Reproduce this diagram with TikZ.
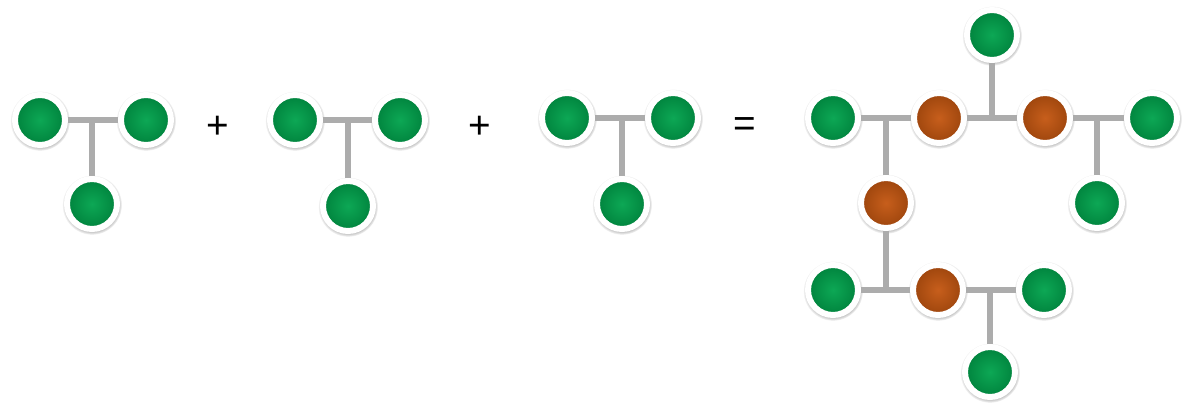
\documentclass[tikz,border=0pt]{standalone}
\usepackage{fontspec}
\setsansfont{Liberation Sans}
\usepackage{tikz}
\usetikzlibrary{shadows}

\definecolor{monogreen}{RGB}{0,163,76}
\definecolor{linkorange}{RGB}{196,86,16}
\definecolor{bondgrey}{RGB}{172,172,172}

\tikzset{atom/.style={circle,minimum size=1cm,inner sep=0pt,draw=white,line width=0.12cm,
           circular drop shadow={shadow xshift=0pt,shadow yshift=-0.4pt,shadow scale=1.2,opacity=0.6}},
         mono/.style={atom,inner color=monogreen!95!white,outer color=monogreen!80!black},
         link/.style={atom,inner color=linkorange!95!white,outer color=linkorange!80!black},
         bond/.style={draw=bondgrey,line width=0.12cm},
         sign/.style={font=\fontsize{22}{24}\selectfont\sffamily}}

\begin{document}
\begin{tikzpicture}[x=0.02cm,y=-0.02cm]
\useasboundingbox (0,0) rectangle (1190,406);
% three monomers
\node[mono] (a1) at (40,120) {};
\node[mono] (b1) at (146,120) {};
\node[mono] (c1) at (92,204) {};
\coordinate (j1) at (92,120);
\draw[bond] (a1) -- (j1) -- (b1) (j1) -- (c1);
\node[sign] (p1) at (218,127) {+};
\node[mono] (a2) at (295,120) {};
\node[mono] (b2) at (400,120) {};
\node[mono] (c2) at (348,206) {};
\coordinate (j2) at (348,120);
\draw[bond] (a2) -- (j2) -- (b2) (j2) -- (c2);
\node[sign] (p2) at (480,127) {+};
\node[mono] (a3) at (567,118) {};
\node[mono] (b3) at (673,118) {};
\node[mono] (c3) at (622,204) {};
\coordinate (j3) at (622,118);
\draw[bond] (a3) -- (j3) -- (b3) (j3) -- (c3);
\node[sign] (eq) at (745,127) {=};
% branched polymer
\node[mono] (g1) at (992,35) {};
\node[mono] (g2) at (833,118) {};
\node[link] (o1) at (939,118) {};
\node[link] (o2) at (1045,118) {};
\node[mono] (g3) at (1152,118) {};
\node[link] (o3) at (886,203) {};
\node[mono] (g4) at (1097,203) {};
\node[mono] (g5) at (833,290) {};
\node[link] (o4) at (938,290) {};
\node[mono] (g6) at (1044,290) {};
\node[mono] (g7) at (990,372) {};
\coordinate (ja) at (992,118);
\coordinate (jb) at (886,118);
\coordinate (jc) at (1097,118);
\coordinate (jd) at (886,290);
\coordinate (je) at (990,290);
\draw[bond] (o1) -- (ja) -- (o2) (ja) -- (g1);
\draw[bond] (g2) -- (jb) -- (o1) (jb) -- (o3);
\draw[bond] (o2) -- (jc) -- (g3) (jc) -- (g4);
\draw[bond] (g5) -- (jd) -- (o4) (o3) -- (jd);
\draw[bond] (o4) -- (je) -- (g6) (je) -- (g7);
\end{tikzpicture}
\end{document}
